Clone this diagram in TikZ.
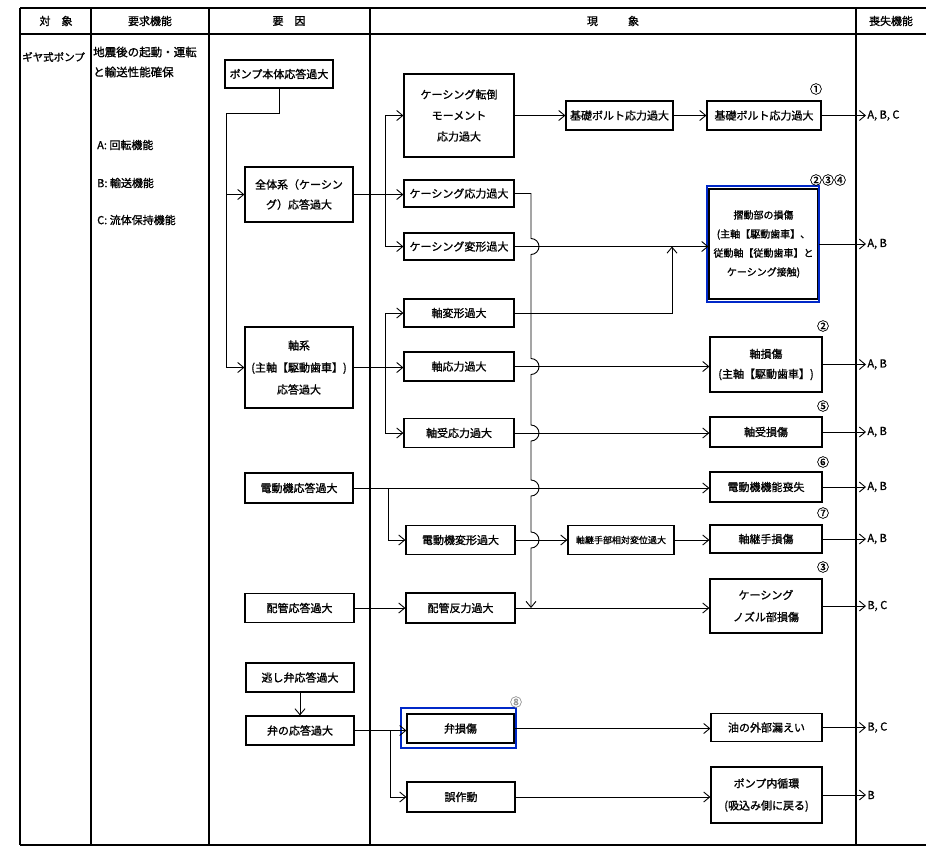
\documentclass[tikz,border=0pt]{standalone}
\usepackage{fontspec}
\setmainfont{Noto Sans CJK JP}[FakeBold=1.2]
\usetikzlibrary{arrows.meta,calc}
\definecolor{hlblue}{RGB}{0,40,200}
\begin{document}
\begin{tikzpicture}[x=1pt,y=-1pt,
  box/.style={draw, line width=1.2pt, inner sep=0pt, align=center, font=\fontsize{11}{20}\selectfont},
  wh/.style 2 args={minimum width=#1pt, minimum height=#2pt},
  arr/.style={-{Straight Barb[length=6pt,width=10pt]}, line width=0.9pt},
  ln/.style={line width=0.9pt},
  grid/.style={line width=1.2pt},
  num/.style={font=\fontsize{12}{12}\selectfont, inner sep=0pt},
  lbl/.style={font=\fontsize{11}{13}\selectfont, inner sep=0pt, anchor=west},
  hdr/.style={font=\fontsize{11}{13}\selectfont, inner sep=0pt},
  hl/.style={draw=hlblue, line width=2.6pt}]
\useasboundingbox[fill=white] (0,0) rectangle (926,847);

% ---- table grid ----
\draw[grid, line width=1.6pt] (20,8) -- (926,8);
\draw[grid] (20,34) -- (926,34);
\draw[grid] (20,845) -- (926,845);
\foreach \xx in {20,91,209,370,856} \draw[grid] (\xx,8) -- (\xx,845);

% ---- headers ----
\node[hdr] (h1) at (56,21) {対　象};
\node[hdr] (h2) at (150,21) {要求機能};
\node[hdr] (h3) at (289,21) {要　因};
\node[hdr] (h4) at (613,21) {現\hspace{30pt}象};
\node[hdr] (h5) at (891,21) {喪失機能};

% ---- left columns ----
\node[lbl, font=\fontsize{10.5}{13}\selectfont] (obj) at (22,57) {ギヤ式ポンプ};
\node[lbl, align=left, font=\fontsize{11.5}{20}\selectfont] (req) at (93,62) {地震後の起動・運転\\と輸送性能確保};
\node[lbl] (fa) at (97,145) {A:\ 回転機能};
\node[lbl] (fb) at (97,183) {B:\ 輸送機能};
\node[lbl] (fc) at (97,220) {C:\ 流体保持機能};

% ---- factor column ----
\node[box, wh={108}{28}] (pump) at (279,74) {ポンプ本体応答過大};
\node[box, wh={108}{55}] (whole) at (299,194.5) {全体系（ケーシン\\グ）応答過大};
\node[box, wh={108}{81}, font=\fontsize{11}{22}\selectfont] (axsys) at (299,367.5) {軸系\\(主軸【駆動歯車】)\\応答過大};
\node[box, wh={108}{30}] (motor) at (299,488) {電動機応答過大};
\node[box, wh={109}{29}] (pipe) at (299.5,608) {配管応答過大};
\node[box, wh={108}{29}] (relief) at (300,677.5) {逃し弁応答過大};
\node[box, wh={108}{29}] (valve) at (300,730.5) {弁の応答過大};

% ---- phenomenon column 1 ----
\node[box, wh={110}{83}, font=\fontsize{11}{21}\selectfont] (ctip) at (459,115.5) {ケーシング転倒\\モーメント\\応力過大};
\node[box, wh={110}{27}] (cstr) at (459,193.5) {ケーシング応力過大};
\node[box, wh={110}{27}] (cdef) at (459,246.5) {ケーシング変形過大};
\node[box, wh={110}{28}] (shdef) at (459,313) {軸変形過大};
\node[box, wh={110}{29}] (shstr) at (459,366.5) {軸応力過大};
\node[box, wh={110}{29}] (brstr) at (459,433) {軸受応力過大};
\node[box, wh={109}{29}] (mdef) at (460.5,540) {電動機変形過大};
\node[box, wh={109}{30}] (pforce) at (460.5,608) {配管反力過大};
\node[box, wh={107}{29}] (vdmg) at (460.5,728.5) {弁損傷};
\node[box, wh={108}{30}] (malf) at (461,797) {誤作動};

% ---- middle ----
\node[box, wh={107}{29}] (bolt1) at (619.5,115.5) {基礎ボルト応力過大};
\node[box, wh={106}{29}, font=\fontsize{9}{11}\selectfont] (coup) at (621,540) {軸継手部相対変位過大};

% ---- right column ----
\node[box, wh={114}{29}] (bolt2) at (764,115.5) {基礎ボルト応力過大};
\node[box, wh={109}{110}, font=\fontsize{10}{19}\selectfont] (slide) at (763.5,244) {摺動部の損傷\\(主軸【駆動歯車】、\\従動軸【従動歯車】と\\ケーシング接触)};
\node[box, wh={112}{55}] (shdmg) at (766,364.5) {軸損傷\\(主軸【駆動歯車】)};
\node[box, wh={112}{30}] (brdmg) at (766,432) {軸受損傷};
\node[box, wh={112}{30}] (mloss) at (766,487) {電動機機能喪失};
\node[box, wh={112}{28}] (cpdmg) at (766,539) {軸継手損傷};
\node[box, wh={112}{54}, font=\fontsize{11}{22}\selectfont] (nozzle) at (766,606) {ケーシング\\ノズル部損傷};
\node[box, wh={111}{28}] (leak) at (766.5,727.5) {油の外部漏えい};
\node[box, wh={111}{56}, font=\fontsize{11}{22}\selectfont] (recirc) at (766.5,795) {ポンプ内循環\\(吸込み側に戻る)};

% ---- highlight frames ----
\draw[hl] (707,186) rectangle (819,302);
\draw[hl] (401,708) rectangle (516,748);

% ---- circled numbers ----
\node[num] (c1) at (816,89) {①};
\node[num] (c234) at (828,180) {②③④};
\node[num] (c2) at (823,326) {②};
\node[num] (c5) at (823,406) {⑤};
\node[num] (c6) at (823,462) {⑥};
\node[num] (c7) at (823,513) {⑦};
\node[num] (c3) at (823,567) {③};
\node[num, text=black!40] (c8) at (516,702) {⑧};

% ---- helper coordinates ----
\coordinate (jp) at (226,113);
\coordinate (tx) at (385,0);
\coordinate (vx) at (531,0);
\coordinate (jsl) at (672,246.5);
\coordinate (mx) at (388,0);
\coordinate (vvx) at (390,0);
\coordinate (ox) at (866,0);

% ---- factor connectors ----
\draw[arr] (pump.south) |- (jp) |- (axsys.west);
\draw[arr] (jp |- whole.west) -- (whole.west);
\draw[arr] (relief.south) -- (valve.north);

% ---- casing branch ----
\draw[arr] (whole.east) -- (whole.east -| cstr.west);
\draw[arr] (tx |- cdef.west) -- (cdef.west);
\draw[arr] (tx |- cdef.west) |- (ctip.west);
\draw[arr] (ctip.east) -- (ctip.east -| bolt1.west);
\draw[arr] (bolt1.east) -- (bolt2.west);
\draw[arr] (cdef.east) -- (jsl) -- (cdef.east -| slide.west);
\draw[arr] (shdef.east) -| (jsl);

% ---- shaft branch ----
\draw[arr] (axsys.east) -- (axsys.east -| shstr.west);
\draw[arr] (tx |- shdef.west) -- (shdef.west);
\draw[arr] (tx |- shdef.west) |- (brstr.west);
\draw[arr] (shstr.east) -- (shstr.east -| shdmg.west);
\draw[arr] (brstr.east) -- (brstr.east -| brdmg.west);

% ---- motor ----
\draw[arr] (motor.east) -- (motor.east -| mloss.west);
\draw[arr] (mx |- motor.east) |- (mdef.west);
\draw[arr] (mdef.east) -- (mdef.east -| coup.west);
\draw[arr] (coup.east) -- (coup.east -| cpdmg.west);

% ---- piping ----
\draw[arr] (pipe.east) -- (pipe.east -| pforce.west);
\draw[arr] (pforce.east) -- (pforce.east -| nozzle.west);

% ---- valve ----
\draw[arr] (valve.east) -- (valve.east -| vdmg.west);
\draw[arr] (vvx |- valve.east) |- (malf.west);
\draw[arr] (vdmg.east) -- (vdmg.east -| leak.west);
\draw[arr] (malf.east) -- (malf.east -| recirc.west);

% ---- casing stress trunk with bridges ----
\draw[arr] (cstr.east) -- (vx |- cstr.east)
  -- ($(vx |- cdef.east)+(0,-8)$) arc[start angle=90,end angle=-90,radius=8pt]
  -- ($(vx |- shstr.east)+(0,-8)$) arc[start angle=90,end angle=-90,radius=8pt]
  -- ($(vx |- brstr.east)+(0,-8)$) arc[start angle=90,end angle=-90,radius=8pt]
  -- ($(vx |- motor.east)+(0,-8)$) arc[start angle=90,end angle=-90,radius=8pt]
  -- ($(vx |- mdef.east)+(0,-8)$) arc[start angle=90,end angle=-90,radius=8pt]
  -- (vx |- pforce.east);

% ---- lost functions ----
\draw[arr] (bolt2.east) -- (ox |- bolt2.east) node[lbl, right=1pt] (o1) {A, B, C};
\draw[arr] (slide.east) -- (ox |- slide.east) node[lbl, right=1pt] (o2) {A, B};
\draw[arr] (shdmg.east) -- (ox |- shdmg.east) node[lbl, right=1pt] (o3) {A, B};
\draw[arr] (brdmg.east) -- (ox |- brdmg.east) node[lbl, right=1pt] (o4) {A, B};
\draw[arr] (mloss.east) -- (ox |- mloss.east) node[lbl, right=1pt] (o5) {A, B};
\draw[arr] (cpdmg.east) -- (ox |- cpdmg.east) node[lbl, right=1pt] (o6) {A, B};
\draw[arr] (nozzle.east) -- (ox |- nozzle.east) node[lbl, right=1pt] (o7) {B, C};
\draw[arr] (leak.east) -- (ox |- leak.east) node[lbl, right=1pt] (o8) {B, C};
\draw[arr] (recirc.east) -- (ox |- recirc.east) node[lbl, right=1pt] (o9) {B};
\end{tikzpicture}
\end{document}
